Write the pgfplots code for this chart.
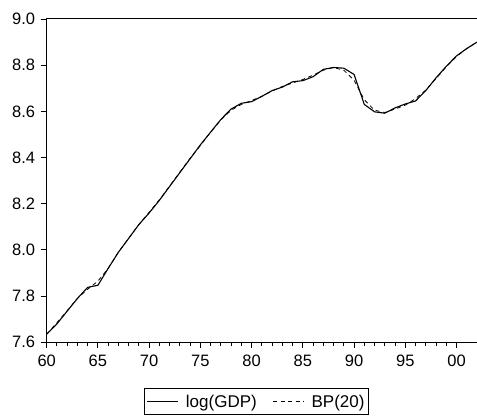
\documentclass[border=0pt]{standalone}
\usepackage{fontspec}
\setmainfont{Liberation Sans}
\usepackage{pgfplots}
\pgfplotsset{compat=1.18}
\pgfplotstableread{
year gdp bp
60 7.635 7.635
61 7.680 7.685
62 7.735 7.737
63 7.790 7.790
64 7.838 7.830
65 7.847 7.865
66 7.920 7.920
67 7.990 7.990
68 8.050 8.050
69 8.110 8.110
70 8.160 8.163
71 8.215 8.217
72 8.275 8.277
73 8.335 8.337
74 8.395 8.397
75 8.455 8.452
76 8.510 8.510
77 8.565 8.563
78 8.610 8.605
79 8.635 8.630
80 8.642 8.647
81 8.665 8.665
82 8.690 8.688
83 8.705 8.708
84 8.728 8.723
85 8.733 8.738
86 8.750 8.757
87 8.782 8.778
88 8.790 8.790
89 8.787 8.778
90 8.760 8.735
91 8.630 8.650
92 8.598 8.605
93 8.592 8.595
94 8.615 8.610
95 8.632 8.627
96 8.645 8.655
97 8.690 8.692
98 8.745 8.742
99 8.795 8.793
100 8.840 8.838
101 8.872 8.872
102 8.900 8.900
}\gdpdata
\begin{document}
\begin{tikzpicture}
\begin{axis}[
  scale only axis, width=430.3pt, height=323.3pt,
  xmin=60, xmax=102, ymin=7.6, ymax=9.0,
  axis line style={line width=1pt},
  tick pos=left, tick align=outside,
  major tick length=6pt, minor tick length=3.5pt,
  every tick/.style={black, line width=0.9pt},
  xtick={60,65,...,100}, xticklabels={60,65,70,75,80,85,90,95,00},
  minor x tick num=4,
  ytick={7.6,7.8,8.0,8.2,8.4,8.6,8.8,9.0},
  yticklabel style={/pgf/number format/fixed,/pgf/number format/fixed zerofill,/pgf/number format/precision=1, xshift=-2pt},
  xticklabel style={yshift=-3pt},
  /pgf/number format/assume math mode=true,
  tick label style={font=\fontsize{16.5}{19}\selectfont},
  legend style={at={(0.488,-0.1423)}, anchor=north, legend columns=2,
    font=\fontsize{17}{20}\selectfont, draw=black, line width=0.8pt,
    inner xsep=2pt, inner ysep=4pt,
    /tikz/every even column/.append style={column sep=14pt}},
  legend image code/.code={\draw[#1] (0pt,0pt) -- (31pt,0pt);},
]
\addplot[black, line width=1.1pt] table[x=year, y=gdp] {\gdpdata};
\addlegendentry{\hspace{5pt}log(GDP)}
\addplot[black, line width=0.8pt, dash pattern=on 4pt off 3.5pt] table[x=year, y=bp] {\gdpdata};
\addlegendentry{\hspace{5pt}BP(20)}
\end{axis}
\pgfresetboundingbox
\path[use as bounding box] (-46.7pt,-76.7pt) rectangle (430.3pt,342.3pt);
\end{tikzpicture}
\end{document}
